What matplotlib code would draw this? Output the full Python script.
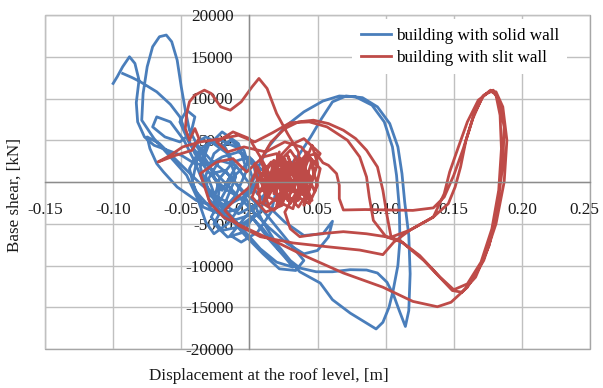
import numpy as np
import matplotlib
matplotlib.use('Agg')
import matplotlib.pyplot as plt
from matplotlib.patches import Rectangle
from matplotlib.ticker import FuncFormatter
from matplotlib.transforms import ScaledTranslation

# roof displacement [m] and base shear [kN], building with solid wall
solid_disp = [
    -0.093, -0.086, -0.080, -0.068, -0.058, -0.051, -0.046, -0.040, -0.030, -0.018,
    -0.006, 0.004, 0.008, 0.000, -0.012, -0.022, -0.026, -0.018, -0.004, 0.008,
    0.012, 0.004, -0.010, -0.024, -0.036, -0.044, -0.040, -0.028, -0.012, 0.000,
    0.010, 0.022, 0.037, 0.052, 0.061, 0.074, 0.086, 0.093, 0.098, 0.1025,
    0.1055, 0.109, 0.1105, 0.110, 0.108, 0.105, 0.099, 0.090, 0.078, 0.066,
    0.054, 0.040, 0.026, 0.014, 0.006, 0.000, -0.008, -0.020, -0.030, -0.032,
    -0.026, -0.014, -0.004, 0.002, -0.004, -0.016, -0.026, -0.032, -0.038, -0.046,
    -0.058, -0.070, -0.079, -0.078, -0.075, -0.071, -0.066, -0.061, -0.057, -0.053,
    -0.050, -0.047, -0.044, -0.038, -0.028, -0.016, -0.004, 0.008, 0.020, 0.032,
    0.040, 0.034, 0.022, 0.010, -0.002, -0.014, -0.024, -0.030, -0.022, -0.010,
    0.000, 0.012, 0.026, 0.040, 0.054, 0.061, 0.058, 0.050, 0.040, 0.028,
    0.014, 0.002, -0.010, -0.022, -0.034, -0.044, -0.051, -0.046, -0.040, -0.043,
    -0.051, -0.062, -0.071, -0.068, -0.058, -0.048, -0.040, -0.034, -0.022, -0.008,
    0.004, 0.010, 0.020, 0.030, 0.037, 0.049, 0.061, 0.074, 0.086, 0.094,
    0.101, 0.106, 0.110, 0.1145, 0.117, 0.118, 0.117, 0.114, 0.112, 0.109,
    0.103, 0.094, 0.083, 0.071, 0.061, 0.053, 0.045, 0.037, 0.028, 0.018,
    0.008, -0.004, -0.014, -0.006, 0.006, 0.016, 0.020, 0.012, 0.000, -0.012,
    -0.020, -0.028, -0.020, -0.008, 0.002, 0.014, 0.026, 0.032, 0.020, 0.008,
    -0.004, -0.016, -0.030, -0.036, -0.030, -0.020, -0.008, -0.002, -0.010, -0.022,
    -0.034, -0.042, -0.038, -0.028, -0.016, -0.010, -0.018, -0.026, -0.016, -0.004,
    0.004, -0.006, -0.018, -0.028, -0.020, -0.010, -0.018, -0.032, -0.040, -0.030,
    -0.022, -0.024, -0.039, -0.053, -0.063, -0.068, -0.073, -0.075, -0.066, -0.056,
    -0.046, -0.036, -0.026, -0.014, -0.002, 0.006, 0.002, -0.008, -0.020, -0.030,
    -0.040, -0.050, -0.060, -0.070, -0.077, -0.082, -0.083, -0.081, -0.084, -0.088,
    -0.093, -0.097, -0.100,
]
solid_shear = [
    13000, 12500, 12000, 10800, 9300, 7800, 5600, 3400, 1200, -800,
    -2000, -1000, 1600, 3000, 2400, 400, -2200, -4400, -5200, -3600,
    -1200, 1800, 4200, 5200, 4000, 1600, -1000, -3200, -4600, -4000,
    -5600, -8200, -10750, -12100, -14100, -15700, -16900, -17600, -16800, -15000,
    -13000, -10000, -6950, -3000, 800, 4200, 7200, 9200, 10200, 10300,
    9700, 8400, 6600, 4200, 1600, -1000, -3200, -3800, -2000, 800,
    3400, 5000, 3800, 600, -2400, -5000, -6200, -4800, -2000, 800,
    3000, 5200, 7400, 10600, 13800, 16200, 17400, 17600, 16800, 14600,
    11400, 8600, 6200, 4400, 2600, 1000, -1200, -3000, -5400, -7800,
    -9400, -10600, -10400, -8600, -6600, -4400, -2200, 400, 2600, 2000,
    -200, -2600, -4800, -6400, -6200, -4700, -6600, -8200, -8600, -7400,
    -5400, -3400, -1400, 600, 2600, 4600, 7200, 8600, 7800, 5800,
    4800, 5400, 6600, 7800, 7200, 5000, 2400, 0, -2400, -3800,
    -2800, -4800, -7400, -9400, -10300, -10750, -10750, -10500, -10540, -10900,
    -12000, -13600, -15400, -17300, -15400, -11000, -6400, -2400, 1000, 4200,
    7000, 9000, 10100, 10300, 9600, 7600, 5400, 3400, 1600, -400,
    -2000, -4400, -6400, -7200, -6000, -3600, -800, 1200, 2400, 600,
    -1800, -4200, -5800, -5400, -4200, -6800, -9000, -10200, -9600, -8000,
    -5800, -3600, -1400, 1800, 4400, 6000, 4600, 1400, -1600, -3800,
    -3000, 0, 3000, 4800, 3400, 600, -2600, -5000, -6600, -6000,
    -3800, -1000, 1400, 1000, -1000, 1800, 4200, 5400, 4600, 2200,
    -800, -3000, -2200, -600, 1200, 2200, 4000, 5400, 4600, 3000,
    1400, -200, -1600, -2600, -1600, 200, 2600, 3600, 3000, 2000,
    2200, 3200, 3800, 4400, 5400, 7200, 9500, 12200, 14200, 15000,
    13800, 12600, 11800,
]

# roof displacement [m] and base shear [kN], building with slit wall
slit_disp = [
    0.020, 0.026, 0.018, 0.030, 0.022, 0.034, 0.028, 0.038, 0.030, 0.042,
    0.036, 0.046, 0.040, 0.048, 0.042, 0.032, 0.026, 0.016, 0.022, 0.010,
    0.014, 0.004, 0.008, 0.018, 0.028, 0.036, 0.044, 0.050, 0.046, 0.038,
    0.036, 0.028, 0.020, 0.013, 0.007, 0.002, -0.006, -0.014, -0.021, -0.028,
    -0.033, -0.040, -0.044, -0.046, -0.047, -0.044, -0.040, -0.037, -0.042, -0.054,
    -0.067, -0.058, -0.049, -0.036, -0.020, -0.008, 0.004, 0.017, 0.030, 0.044,
    0.057, 0.072, 0.081, 0.086, 0.088, 0.091, 0.100, 0.110, 0.125, 0.140,
    0.150, 0.160, 0.170, 0.178, 0.183, 0.185, 0.184, 0.181, 0.177, 0.171,
    0.164, 0.157, 0.150, 0.143, 0.135, 0.120, 0.100, 0.085, 0.069, 0.066,
    0.066, 0.064, 0.058, 0.054, 0.049, 0.040, 0.034, 0.040, 0.032, 0.024,
    0.030, 0.020, 0.012, 0.018, 0.008, 0.014, 0.024, 0.034, 0.044, 0.038,
    0.028, 0.020, 0.010, -0.002, -0.012, -0.024, -0.036, -0.029, -0.019, 0.000,
    0.020, 0.040, 0.069, 0.098, 0.120, 0.138, 0.148, 0.160, 0.172, 0.181,
    0.187, 0.189, 0.186, 0.181, 0.176, 0.168, 0.160, 0.153, 0.147, 0.143,
    0.135, 0.118, 0.104, 0.101, 0.098, 0.094, 0.086, 0.078, 0.069, 0.058,
    0.047, 0.036, 0.026, 0.016, 0.008, 0.014, 0.006, 0.016, 0.024, 0.030,
    0.036, 0.028, 0.040, 0.046, 0.036, 0.026, 0.030, 0.037, 0.052, 0.069,
    0.086, 0.100, 0.112, 0.128, 0.142, 0.149, 0.156, 0.166, 0.176, 0.182,
    0.186, 0.187, 0.183, 0.179, 0.172, 0.165, 0.159, 0.155, 0.151, 0.146,
    0.135, 0.118, 0.106, 0.098, 0.081, 0.057, 0.032, 0.008, -0.008, -0.018,
    -0.010, 0.000, 0.006, 0.012, 0.020, 0.026, 0.034, 0.040, 0.036, 0.044,
    0.050, 0.046, 0.052, 0.040, 0.030, 0.022, 0.026, 0.018, 0.024, 0.030,
    0.036, 0.028, 0.040, 0.032, 0.024, 0.034, 0.020, 0.030, 0.016, 0.026,
    0.010, 0.022, 0.014, 0.032, 0.038, 0.044, 0.040, 0.048, 0.052, 0.044,
    0.036, 0.028, 0.020, 0.024, 0.016, 0.008, 0.002, 0.012, 0.024, 0.030,
    0.036, 0.042, 0.030, 0.018, 0.026, 0.034, 0.040, 0.046, 0.038, 0.026,
    0.012, -0.004, -0.016, -0.024, -0.012, 0.000, 0.008, 0.016,
]
slit_shear = [
    0, 2400, -1400, 1400, -2600, 600, 3200, -800, 1800, -2000,
    2600, 400, -2800, 1400, 3600, -600, 2800, 800, -2200, 1600,
    -1000, 2200, -2400, -3400, -1600, -3000, -1000, 2200, 4400, 1200,
    3600, 5800, 8200, 11200, 12400, 11400, 9600, 8600, 9000, 10600,
    11000, 10400, 9600, 8200, 6400, 5000, 6400, 5200, 3800, 3200,
    2400, 3200, 4200, 4800, 5200, 5600, 4800, 5900, 7100, 7200,
    6600, 5000, 3000, 600, -1800, -4600, -6500, -6950, -8800, -11400,
    -12900, -12200, -9600, -5600, -1000, 4000, 8000, 10400, 11000, 10200,
    7600, 4000, 800, -1800, -3100, -3400, -3350, -3300, -3350, -2000,
    -400, 1000, 2000, 2300, 3400, 3000, 800, -1600, 2000, -400,
    -2600, 1400, -1800, 2600, 400, -2800, -1200, -2400, 200, 2800,
    400, 3400, 3000, 1200, 2800, 2400, 1000, -2500, -4200, -5700,
    -7200, -8800, -10900, -12600, -14300, -14940, -14400, -12600, -9400, -5000,
    0, 5000, 9000, 10800, 10800, 9800, 7200, 4000, 1200, -1400,
    -4200, -5750, -6600, -4000, -1000, 1800, 3800, 5200, 6200, 7000,
    7400, 7200, 6400, 4800, 2600, 400, -1400, -200, 1800, -1000,
    1400, 2400, 200, -2200, -800, -3600, -5600, -6550, -6200, -5950,
    -6200, -6550, -7200, -9400, -11800, -13000, -13200, -11400, -7600, -3000,
    2000, 6600, 9800, 11000, 10400, 8200, 5000, 1800, -600, -2600,
    -4200, -5750, -7200, -8700, -8150, -7750, -7300, -6550, -5200, -3400,
    -2000, -600, 1800, -800, 2000, -400, 2200, 400, -1800, -2600,
    -400, 1800, 3400, 5200, 4400, 3000, 800, -1000, 600, -800,
    1800, -2200, 2600, -1200, 3000, 200, -2800, 2400, -600, 1200,
    -2600, 3600, -1800, -3200, 600, -2400, 2000, -1200, 1600, 3000,
    -400, 2200, 400, -1400, 2400, 800, -1800, -3600, -2800, 400,
    -2200, 1000, 3800, 1800, -600, 3000, -600, 2600, 4200, 4800,
    3600, 4200, 3600, 4800, 6000, 5200, 3000, 600,
]

x_ticks = [-0.15, -0.10, -0.05, 0.00, 0.05, 0.10, 0.15, 0.20, 0.25]
y_ticks = [-20000, -15000, -10000, -5000, 0, 5000, 10000, 15000, 20000]

plt.rcParams['font.family'] = 'Liberation Serif'
plt.rcParams['font.size'] = 12.3

W, H = 603, 388
fig = plt.figure(figsize=(W / 100, H / 100), dpi=100)
ax = fig.add_axes([45 / W, 1 - 349 / H, 545 / W, 334 / H])

ax.plot(solid_disp, solid_shear, color='#4a7ebb', lw=2.0,
        solid_joinstyle='round', label='building with solid wall')
ax.plot(slit_disp, slit_shear, color='#be4b48', lw=2.0,
        solid_joinstyle='round', label='building with slit wall')

ax.set_xlim(-0.15, 0.25)
ax.set_ylim(-20000, 20000)
ax.set_xticks(x_ticks)
ax.set_yticks(y_ticks)
ax.xaxis.set_major_formatter(FuncFormatter(lambda v, p: f'{v:.2f}'))
ax.yaxis.set_major_formatter(FuncFormatter(lambda v, p: f'{v:.0f}'))
ax.grid(True, color='#c0c0c0', lw=1.0)

# axes cross at the origin, outer frame drawn separately
ax.spines['left'].set_position(('data', 0))
ax.spines['bottom'].set_position(('data', 0))
for s in ['left', 'bottom']:
    ax.spines[s].set_color('#8c8c8c')
    ax.spines[s].set_linewidth(1.0)
for s in ['top', 'right']:
    ax.spines[s].set_visible(False)
ax.add_patch(Rectangle((0, 0), 1, 1, transform=ax.transAxes, fill=False,
                       ec='#a6a6a6', lw=1.0, clip_on=False))
ax.tick_params(axis='x', length=0, pad=14.5, colors='#1a1a1a')
ax.tick_params(axis='y', length=0, pad=11.5, colors='#1a1a1a')

# keep the last x label inside the figure
last = ax.get_xticklabels()[-1]
last.set_transform(last.get_transform() + ScaledTranslation(-4 / 72, 0, fig.dpi_scale_trans))

ax.legend(loc='upper left', bbox_to_anchor=(352 / W, 1 - 19 / H),
          bbox_transform=fig.transFigure, frameon=True, facecolor='white',
          edgecolor='none', framealpha=1, fancybox=False, handlelength=1.8,
          handletextpad=0.25, labelspacing=0.35, borderpad=0.5,
          borderaxespad=0)

fig.text(269 / W, 1 - 376 / H, 'Displacement at the roof level, [m]',
         ha='center', va='center', color='#1a1a1a')
fig.text(15 / W, 1 - 195 / H, 'Base shear, [kN]', rotation=90,
         ha='center', va='center', color='#1a1a1a')

fig.savefig('out.png', dpi=100)
